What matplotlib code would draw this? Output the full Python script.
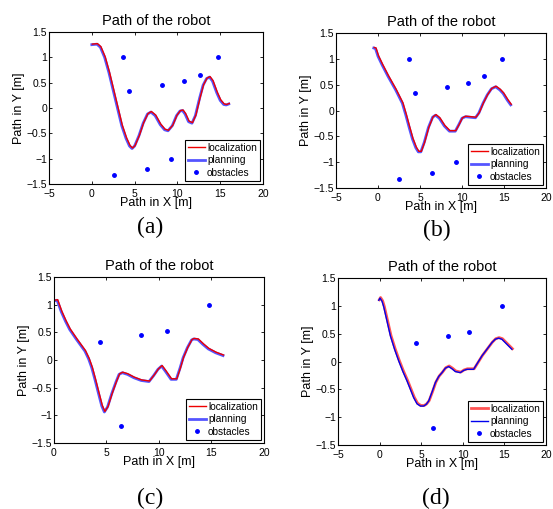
import matplotlib
matplotlib.use('Agg')
import matplotlib.pyplot as plt
from matplotlib.transforms import offset_copy

plt.rcParams['font.family'] = ['Liberation Sans', 'DejaVu Sans']

# obstacle positions (all nine), panels c and d only show a subset
obs_x = [3.7, 4.35, 8.25, 10.75, 12.65, 14.75, 2.55, 6.4, 9.3]
obs_y = [1.0, 0.33, 0.45, 0.53, 0.66, 1.0, -1.33, -1.2, -1.0]
obs_sub = [1, 2, 3, 5, 7]

path_a_x = [0, 0.6, 1.0, 1.5, 2.0, 2.5, 3.0, 3.5, 4.0, 4.4, 4.7, 5.0, 5.5, 6.0, 6.5, 6.9, 7.4, 8.0, 8.5,
            8.9, 9.4, 9.9, 10.3, 10.6, 10.9, 11.3, 11.7, 12.1, 12.6, 13.0, 13.4, 13.75, 14.1, 14.6, 15.0,
            15.4, 15.7, 16.0]
path_a_y = [1.25, 1.26, 1.2, 1.0, 0.7, 0.35, 0.0, -0.35, -0.6, -0.75, -0.8, -0.75, -0.55, -0.3, -0.12,
            -0.08, -0.15, -0.33, -0.43, -0.45, -0.35, -0.15, -0.06, -0.05, -0.12, -0.27, -0.3, -0.15,
            0.2, 0.45, 0.58, 0.61, 0.53, 0.3, 0.15, 0.07, 0.06, 0.08]

path_b_x = [-0.5, -0.3, 0.0, 0.5, 1.2, 2.1, 2.9, 3.3, 3.7, 4.1, 4.5, 4.8, 5.1, 5.5, 6.0, 6.5, 6.85, 7.3,
            7.9, 8.5, 9.2, 9.6, 10.0, 10.4, 11.0, 11.6, 12.0, 12.5, 13.0, 13.5, 14.0, 14.5, 14.9, 15.4, 15.8]
path_b_y = [1.21, 1.2, 1.05, 0.88, 0.66, 0.4, 0.14, -0.08, -0.32, -0.55, -0.72, -0.8, -0.8, -0.62, -0.33,
            -0.13, -0.09, -0.15, -0.3, -0.4, -0.4, -0.28, -0.15, -0.12, -0.13, -0.14, -0.05, 0.14, 0.3,
            0.42, 0.46, 0.4, 0.33, 0.2, 0.11]

path_c_x = [0.0, 0.3, 0.7, 1.1, 1.5, 2.15, 2.95, 3.3, 3.6, 3.9, 4.25, 4.55, 4.8, 5.1, 5.5, 5.9, 6.2, 6.5,
            7.0, 7.6, 8.3, 9.05, 9.5, 9.9, 10.25, 10.6, 11.15, 11.65, 12.0, 12.3, 12.7, 13.1, 13.3, 13.7,
            14.2, 14.7, 15.4, 16.1]
path_c_y = [1.07, 1.08, 0.87, 0.7, 0.55, 0.37, 0.16, 0.02, -0.14, -0.35, -0.61, -0.83, -0.94, -0.85,
            -0.61, -0.4, -0.26, -0.23, -0.26, -0.32, -0.37, -0.39, -0.28, -0.17, -0.11, -0.2, -0.35,
            -0.35, -0.15, 0.04, 0.22, 0.36, 0.38, 0.37, 0.28, 0.2, 0.13, 0.08]

path_d_x = [-0.1, 0.05, 0.3, 0.5, 0.9, 1.3, 1.8, 2.3, 2.8, 3.3, 3.7, 4.1, 4.5, 4.9, 5.3, 5.6, 5.9, 6.3,
            6.7, 7.1, 7.5, 7.9, 8.3, 8.7, 9.1, 9.7, 10.1, 10.5, 11.3, 11.8, 12.3, 12.9, 13.5, 13.9, 14.3,
            14.7, 15.1, 15.5, 15.9]
path_d_y = [1.1, 1.14, 1.08, 0.98, 0.72, 0.46, 0.22, 0.01, -0.18, -0.35, -0.5, -0.65, -0.76, -0.8, -0.8,
            -0.77, -0.71, -0.55, -0.38, -0.27, -0.2, -0.12, -0.09, -0.13, -0.18, -0.2, -0.16, -0.14,
            -0.14, -0.02, 0.1, 0.22, 0.34, 0.4, 0.42, 0.4, 0.34, 0.28, 0.22]

fig = plt.figure(figsize=(5.53, 5.09), dpi=100)

panels = [
    ([0.0886, 0.6385, 0.387, 0.2986], path_a_x, path_a_y, (-5, 20), False, list(range(9)), '(a)', (150, 227)),
    ([0.6076, 0.6306, 0.3797, 0.3045], path_b_x, path_b_y, (-5, 20), False, list(range(9)), '(b)', (437, 230)),
    ([0.0976, 0.1297, 0.3797, 0.3261], path_c_x, path_c_y, (0, 20), False, obs_sub, '(c)', (150, 498)),
    ([0.6112, 0.1257, 0.3761, 0.3281], path_d_x, path_d_y, (-5, 20), True, obs_sub, '(d)', (436, 498)),
]

for rect, px, py, xl, swap, idx, cap, cpos in panels:
    ax = fig.add_axes(rect)
    if swap:
        loc_kw = dict(color='#ff5555', lw=2.0)
        plan_kw = dict(color='#0000ee', lw=1.0)
    else:
        loc_kw = dict(color='#ee0000', lw=1.0)
        plan_kw = dict(color='#5555ff', lw=2.0)
    shifted = offset_copy(ax.transData, fig=fig, x=0.4, y=0.4, units='points')
    if swap:
        ax.plot(px, py, label='localization', transform=shifted, **loc_kw)
        ax.plot(px, py, label='planning', **plan_kw)
    else:
        ax.plot(px, py, label='planning', **plan_kw)
        ax.plot(px, py, label='localization', transform=shifted, **loc_kw)
    ax.plot([obs_x[i] for i in idx], [obs_y[i] for i in idx], '.', color='#0000ff', ms=5, label='obstacles')
    ax.set_xlim(*xl)
    ax.set_ylim(-1.5, 1.5)
    ax.set_xticks(range(xl[0], 21, 5))
    ax.set_yticks([-1.5, -1, -0.5, 0, 0.5, 1, 1.5])
    ax.set_yticklabels(['\u22121.5', '\u22121', '\u22120.5', '0', '0.5', '1', '1.5'])
    ax.set_xticklabels([str(v).replace('-', '\u2212') for v in range(xl[0], 21, 5)])
    ax.tick_params(direction='in', top=True, right=True, labelsize=7.5, length=2.5, width=0.6, pad=1.5)
    ax.tick_params(axis='x', pad=3.5)
    for s in ax.spines.values():
        s.set_linewidth(0.8)
    ax.set_title('Path of the robot', fontsize=10.5, pad=5)
    ax.set_xlabel('Path in X [m]', fontsize=9, labelpad=-1)
    ax.set_ylabel('Path in Y [m]', fontsize=9, labelpad=1)
    h, l = ax.get_legend_handles_labels()
    order = [l.index('localization'), l.index('planning'), l.index('obstacles')]
    leg = ax.legend([h[i] for i in order], [l[i] for i in order], loc='lower right', fontsize=7.3,
                    handlelength=1.7, handletextpad=0.2, borderpad=0.3, labelspacing=0.25,
                    borderaxespad=0.3, fancybox=False, framealpha=1)
    leg.get_frame().set_edgecolor('black')
    leg.get_frame().set_linewidth(0.8)
    fig.text(cpos[0] / 553, 1 - cpos[1] / 509, cap, fontsize=17, family='Liberation Serif',
             ha='center', va='center')

fig.savefig('out.png', dpi=100)
